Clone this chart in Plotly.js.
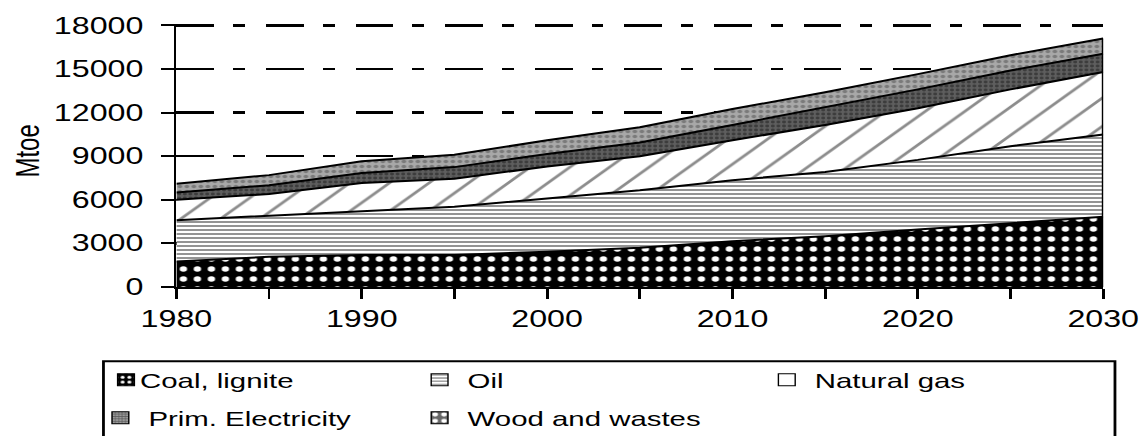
<!DOCTYPE html>
<html>
<head>
<meta charset="utf-8">
<script src="https://cdn.plot.ly/plotly-3.0.1.min.js"></script>
<style>
  html, body { margin: 0; padding: 0; background: #fff; overflow: hidden; }
  #wrap { width: 816px; height: 436px; transform: scaleX(1.4); transform-origin: 0 0; }
  #chart { width: 816px; height: 436px; }
  g.traces { opacity: 1 !important; }
</style>
</head>
<body>
<div id="wrap"><div id="chart"></div></div>
<script>
// ---- data (Mtoe) ----
const years = [1980, 1985, 1990, 1995, 2000, 2005, 2010, 2015, 2020, 2025, 2030];
const coal  = [1750, 2080, 2200, 2200, 2430, 2700, 3150, 3500, 3950, 4400, 4830];
const oil   = [2850, 2820, 3030, 3320, 3660, 3960, 4200, 4420, 4800, 5290, 5670];
const gas   = [1400, 1500, 1920, 1930, 2210, 2340, 2750, 3230, 3550, 3910, 4300];
const elec  = [500, 600, 700, 800, 850, 950, 1050, 1200, 1300, 1300, 1250];
const wood  = [600, 700, 800, 850, 950, 1050, 1100, 1050, 1050, 1050, 1050];
const seriesNames = ['Coal, lignite', 'Oil', 'Natural gas', 'Prim. Electricity', 'Wood and wastes'];
const seriesValues = [coal, oil, gas, elec, wood];
const yTicks = [0, 3000, 6000, 9000, 12000, 15000, 18000];
const xLabels = [1980, 1990, 2000, 2010, 2020, 2030];
const yTitle = 'Mtoe';

// ---- styles ----
const styles = [
  { bg: '#000000', pat: { shape: '.', fgcolor: '#ffffff', bgcolor: '#000000', size: 10, solidity: 0.22 }, legPat: { shape: '.', fgcolor: '#ffffff', bgcolor: '#000000', size: 6, solidity: 0.3 } },
  { bg: '#ffffff', pat: { shape: '-', fgcolor: '#666666', bgcolor: '#ffffff', size: 4, solidity: 0.35 }, legPat: { shape: '-', fgcolor: '#666666', bgcolor: '#ffffff', size: 4, solidity: 0.3 } },
  { bg: '#ffffff', pat: { shape: '/', fgcolor: '#8c8c8c', bgcolor: '#ffffff', size: 20, solidity: 0.12 }, legPat: { shape: '', fgcolor: '#ffffff', bgcolor: '#ffffff', size: 8, solidity: 0.1 } },
  { bg: '#5a5a5a', pat: { shape: '.', fgcolor: '#3c3c3c', bgcolor: '#5e5e5e', size: 4, solidity: 0.4 }, legPat: { shape: '+', fgcolor: '#555555', bgcolor: '#9a9a9a', size: 3, solidity: 0.4 } },
  { bg: '#a3a3a3', pat: { shape: '.', fgcolor: '#7a7a7a', bgcolor: '#a8a8a8', size: 5, solidity: 0.35 }, legPat: { shape: '.', fgcolor: '#ffffff', bgcolor: '#666666', size: 8, solidity: 0.3 } }
];
const legendIds = ['legend', 'legend2', 'legend3', 'legend4', 'legend5'];
const W = 816, H = 436;
const legendPos = [[70, 380], [294, 380], [542, 380], [66, 418], [294, 418]];

const traces = [];
seriesNames.forEach((n, i) => {
  traces.push({
    type: 'scatter', x: years, y: seriesValues[i], name: n,
    stackgroup: 'energy', mode: 'lines',
    line: { color: '#000', width: 2, shape: 'linear' },
    fillcolor: styles[i].bg, fillpattern: styles[i].pat,
    showlegend: false, hoverinfo: 'skip'
  });
});
const lastIdx = years.length - 1;
const total = seriesValues.reduce((s, arr) => s + arr[lastIdx], 0);
traces.push({
  type: 'scatter', x: [years[lastIdx], years[lastIdx]], y: [0, total],
  mode: 'lines', line: { color: '#000', width: 2 }, showlegend: false, hoverinfo: 'skip'
});
// legend-only entries (square swatches)
seriesNames.forEach((n, i) => {
  traces.push({
    type: 'bar', x: years, y: seriesValues[i], name: n, legend: legendIds[i],
    visible: 'legendonly', showlegend: true,
    marker: { color: styles[i].bg, pattern: styles[i].legPat, line: { color: '#000', width: 1 } }
  });
});

const tickFont = { family: 'Liberation Sans, Arial, sans-serif', size: 23, color: '#000' };
const yTop = 18100;                 // keeps the 18000 grid line inside the plot
const plotBottom = 287, unitPx = 262 / 18000;
const plotTop = plotBottom - yTop * unitPx;
const layout = {
  width: W, height: H,
  margin: { l: 126, r: 28, t: plotTop, b: H - plotBottom, pad: 0, autoexpand: false },
  paper_bgcolor: '#fff', plot_bgcolor: '#fff',
  font: { family: 'Liberation Sans, Arial, sans-serif', color: '#000' },
  showlegend: true,
  xaxis: {
    range: [years[0], years[lastIdx]], tickmode: 'array', tickvals: xLabels, ticktext: xLabels.map(String),
    ticks: 'outside', ticklen: 10, tickwidth: 2, tickcolor: '#000',
    showline: true, linecolor: '#000', linewidth: 2, showgrid: false, zeroline: false,
    tickfont: tickFont, ticklabelstandoff: 0, automargin: false,
    minor: { dtick: 5, tick0: 1980, ticks: 'outside', ticklen: 10, tickwidth: 2, tickcolor: '#000', showgrid: false },
    fixedrange: true
  },
  yaxis: {
    range: [0, yTop], tickmode: 'array', tickvals: yTicks, ticktext: yTicks.map(String),
    ticks: 'outside', ticklen: 9, tickwidth: 2, tickcolor: '#000',
    showline: true, linecolor: '#000', linewidth: 2,
    showgrid: true, gridcolor: '#000', gridwidth: 2.5, griddash: '27px,13.5px,8.5px,15px',
    zeroline: false, tickfont: tickFont, ticklabelstandoff: 8, automargin: false,
    fixedrange: true
  },
  annotations: [{
    text: yTitle, xref: 'paper', yref: 'paper',
    x: (19.3 - 126) / (W - 126 - 28), y: (plotBottom - 151) / (plotBottom - plotTop),
    xanchor: 'center', yanchor: 'middle', textangle: -90, showarrow: false,
    font: { family: 'Liberation Sans, Arial, sans-serif', size: 24, color: '#000' }
  }],
  shapes: [{
    type: 'rect', xref: 'paper', yref: 'paper',
    x0: -0.0787, x1: 1.0127, y0: -0.2824, y1: -0.62,
    line: { color: '#000', width: 2 }, fillcolor: 'rgba(0,0,0,0)'
  }]
};
legendIds.forEach((id, i) => {
  layout[id] = {
    xref: 'container', yref: 'container',
    x: legendPos[i][0] / W, y: 1 - legendPos[i][1] / H,
    xanchor: 'left', yanchor: 'middle',
    bgcolor: 'rgba(0,0,0,0)', borderwidth: 0,
    font: { family: 'Liberation Sans, Arial, sans-serif', size: 21, color: '#000' },
    orientation: 'v', itemclick: false, itemdoubleclick: false
  };
});

function tightenLegend() {
  // bring legend labels closer to their square swatches
  document.querySelectorAll('#chart text.legendtext').forEach(t => {
    t.setAttribute('x', 30);
    t.querySelectorAll('tspan').forEach(s => { if (s.hasAttribute('x')) s.setAttribute('x', 30); });
  });
}
Plotly.newPlot('chart', traces, layout, { displayModeBar: false, staticPlot: true, responsive: false })
  .then(() => {
    tightenLegend();
    requestAnimationFrame(tightenLegend);
    setTimeout(tightenLegend, 30);
    setTimeout(tightenLegend, 200);
  });
</script>
</body>
</html>
